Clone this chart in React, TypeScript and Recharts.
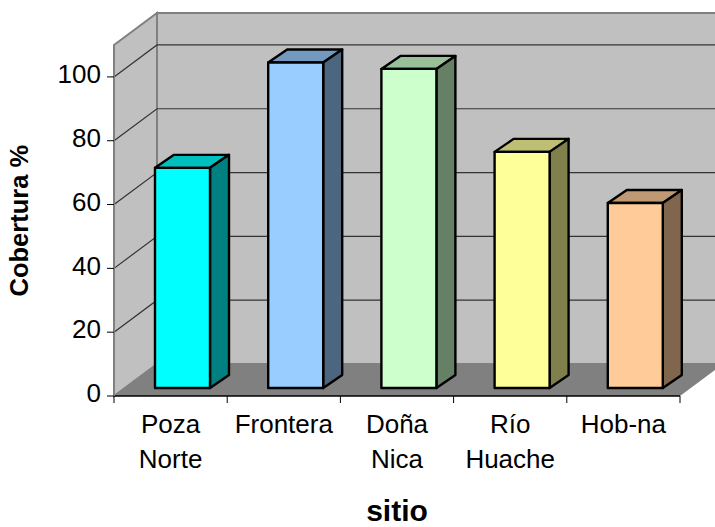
import { Bar, BarChart, ReferenceArea, XAxis, YAxis } from 'recharts';

const categories = ['Poza Norte', 'Frontera', 'Doña Nica', 'Río Huache', 'Hob-na'];
const coverage = [69, 102, 100, 74, 58];
const yTicks = [0, 20, 40, 60, 80, 100];
const gridTicks = [20, 40, 60, 80, 100];

const faceColors = ['#00ffff', '#99ccff', '#ccffcc', '#ffff99', '#ffcc99'];
const topColors = ['#00bfbf', '#7399bf', '#99bf99', '#bfbf73', '#bf9973'];
const sideColors = ['#008080', '#4d6680', '#668066', '#80804d', '#80664d'];

const data = categories.map((sitio, i) => ({ sitio, cobertura: coverage[i] }));

const FONT = 'Liberation Sans, Arial, sans-serif';

// depth of the box the plot sits in, and of the columns inside it
const WALL_DX = 43;
const WALL_DY = 32;
const BAR_SHIFT_X = 12;
const BAR_SHIFT_Y = 8;
const BAR_DX = 19;
const BAR_DY = 13;

function Walls({ x, y, width, height }: any) {
  const bottom = y + height;
  const right = x + width;
  return (
    <g>
      <polygon
        points={`${x + WALL_DX},${y - WALL_DY} ${right + WALL_DX},${y - WALL_DY} ${right + WALL_DX},${bottom - WALL_DY} ${x + WALL_DX},${bottom - WALL_DY}`}
        fill="#c0c0c0"
        stroke="#808080"
        strokeWidth={2}
      />
      <polygon
        points={`${x},${y} ${x + WALL_DX},${y - WALL_DY} ${x + WALL_DX},${bottom - WALL_DY} ${x},${bottom}`}
        fill="#c0c0c0"
        stroke="#808080"
        strokeWidth={2}
      />
      <polygon
        points={`${x},${bottom} ${x + WALL_DX},${bottom - WALL_DY} ${right + WALL_DX},${bottom - WALL_DY} ${right},${bottom}`}
        fill="#808080"
      />
    </g>
  );
}

// a gridline runs up the side wall and then along the back wall
function WallGridLine({ x, y, width }: any) {
  return (
    <polyline
      points={`${x},${y} ${x + WALL_DX},${y - WALL_DY} ${x + width + WALL_DX},${y - WALL_DY}`}
      stroke="#333333"
      strokeWidth={1.2}
      fill="none"
    />
  );
}

function Column({ x, y, width, height, index }: any) {
  const left = x + BAR_SHIFT_X;
  const top = y - BAR_SHIFT_Y;
  const right = left + width;
  const bottom = top + height;
  return (
    <g stroke="#000000" strokeWidth={2.4} strokeLinejoin="round">
      <polygon
        points={`${left},${top} ${left + BAR_DX},${top - BAR_DY} ${right + BAR_DX},${top - BAR_DY} ${right},${top}`}
        fill={topColors[index]}
      />
      <polygon
        points={`${right},${top} ${right + BAR_DX},${top - BAR_DY} ${right + BAR_DX},${bottom - BAR_DY} ${right},${bottom}`}
        fill={sideColors[index]}
      />
      <rect x={left} y={top} width={width} height={height} fill={faceColors[index]} />
    </g>
  );
}

// ticks sit on the category boundaries, labels wrap at the space
function CategoryTick({ x, y, payload, width, visibleTicksCount, index }: any) {
  const half = width / visibleTicksCount / 2;
  const lines = String(payload.value).split(' ');
  return (
    <g>
      <line x1={x - half} y1={y} x2={x - half} y2={y + 7} stroke="#000000" />
      {index === visibleTicksCount - 1 && (
        <line x1={x + half} y1={y} x2={x + half} y2={y + 7} stroke="#000000" />
      )}
      {lines.map((line, i) => (
        <text key={line} x={x} y={y + 37 + i * 35} textAnchor="middle" fontSize={26} fontFamily={FONT} fill="#000000">
          {line}
        </text>
      ))}
    </g>
  );
}

export default function App() {
  return (
    <div style={{ position: 'absolute', left: 0, top: 0 }}>
      <BarChart
        width={715}
        height={527}
        data={data}
        margin={{ top: 45, right: 35, bottom: 0, left: 0 }}
        barSize={55}
      >
        <XAxis
          dataKey="sitio"
          height={131}
          interval={0}
          axisLine={{ stroke: '#000000', strokeWidth: 1.5 }}
          tickLine={false}
          tickSize={0}
          tickMargin={0}
          tick={<CategoryTick />}
          label={{ value: 'sitio', position: 'insideBottom', offset: 6, fontSize: 30, fontWeight: 'bold', fontFamily: FONT, fill: '#000000' }}
        />
        <YAxis
          width={114}
          domain={[0, 110]}
          ticks={yTicks}
          interval={0}
          axisLine={{ stroke: '#808080', strokeWidth: 2 }}
          tickLine={{ stroke: '#000000' }}
          tickSize={7}
          tickMargin={6}
          tick={{ fontSize: 26, fontFamily: FONT, fill: '#000000', dy: -3 }}
          label={{ value: 'Cobertura %', angle: -90, position: 'insideLeft', offset: 19, fontSize: 25.5, fontWeight: 'bold', fontFamily: FONT, fill: '#000000', dy: 76 }}
        />
        <ReferenceArea y1={0} y2={110} shape={<Walls />} />
        {gridTicks.map((t) => (
          <ReferenceArea key={t} y1={t} y2={t} shape={<WallGridLine />} />
        ))}
        <Bar dataKey="cobertura" isAnimationActive={false} shape={<Column />} />
      </BarChart>
    </div>
  );
}
